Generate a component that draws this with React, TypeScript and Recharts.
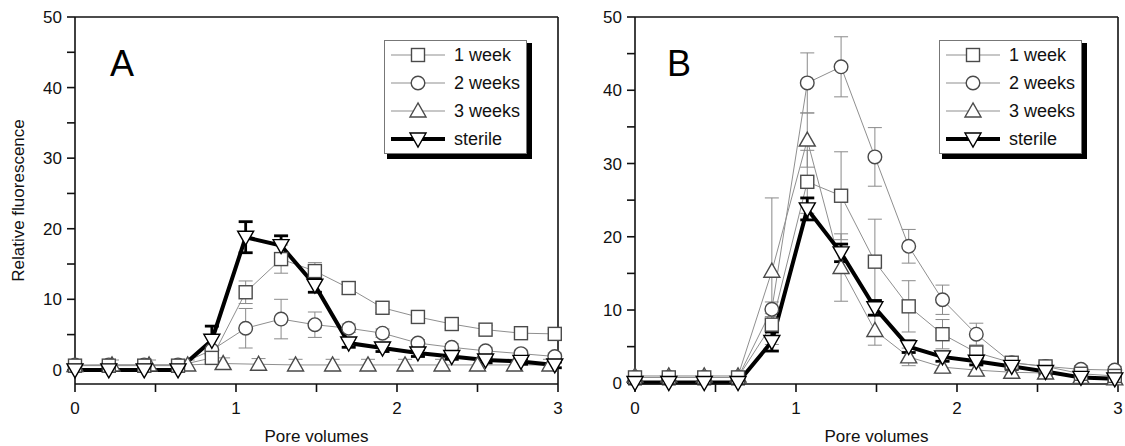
import { LineChart, Line, XAxis, YAxis, ErrorBar, Legend, Label } from 'recharts'

const FONT = '"Liberation Sans", Arial, Helvetica, sans-serif'

// pore volume positions of the samples
const poreA = [0, 0.21, 0.43, 0.64, 0.85, 1.06, 1.28, 1.49, 1.7, 1.91, 2.13, 2.34, 2.55, 2.77, 2.98]
const poreA3 = [0, 0.23, 0.46, 0.7, 0.92, 1.14, 1.37, 1.6, 1.82, 2.05, 2.28, 2.5, 2.73, 2.95]
const poreB = [0, 0.21, 0.43, 0.64, 0.85, 1.07, 1.28, 1.49, 1.7, 1.91, 2.12, 2.34, 2.55, 2.77, 2.98]

// panel A
const a1Week = [0.6, 0.6, 0.6, 0.6, 1.7, 11.0, 15.7, 14.0, 11.6, 8.8, 7.5, 6.5, 5.7, 5.2, 5.1]
const a1WeekErr = [0.3, 0.3, 0.3, 0.3, 0.5, 1.6, 2.0, 1.2, 0.9, 0.7, 0.6, 0.6, 0.6, 0.6, 0.6]
const a2Weeks = [0.7, 0.7, 0.7, 0.7, 2.8, 5.9, 7.2, 6.4, 5.9, 5.2, 3.8, 3.2, 2.7, 2.3, 1.9]
const a2WeeksErr = [0.3, 0.3, 0.3, 0.3, 0.6, 2.8, 2.8, 1.8, 0.6, 0.6, 0.5, 0.5, 0.5, 0.5, 0.5]
const a3Weeks = [0.6, 0.7, 0.7, 0.7, 0.9, 0.8, 0.7, 0.7, 0.7, 0.7, 0.7, 0.7, 0.7, 0.7]
const a3WeeksErr = [0.6, 0.7, 0.7, 0.7, 0.8, 0.8, 0.8, 0.8, 0.8, 0.8, 0.8, 0.8, 0.8, 0.8]
const aSterile = [0, 0, 0, 0, 4.2, 18.8, 17.6, 12.0, 3.8, 3.1, 2.4, 1.9, 1.4, 1.2, 0.7]
const aSterileErr = [0.2, 0.2, 0.2, 0.2, 2.0, 2.2, 1.4, 1.0, 0.6, 0.5, 0.5, 0.4, 0.4, 0.4, 0.4]

// panel B
const b1Week = [0.8, 0.8, 0.8, 0.8, 8.0, 27.5, 25.6, 16.6, 10.5, 6.7, 4.2, 2.8, 2.3, 1.3, 1.0]
const b1WeekErr = [0.3, 0.3, 0.3, 0.3, 1.5, 4.3, 6.0, 5.8, 3.5, 2.0, 1.0, 0.6, 0.6, 0.5, 0.5]
const b2Weeks = [0.8, 0.8, 0.8, 0.8, 10.1, 41.0, 43.2, 30.9, 18.7, 11.4, 6.7, 2.8, 2.3, 1.9, 1.8]
const b2WeeksErr = [0.3, 0.3, 0.3, 0.3, 1.0, 4.1, 4.1, 4.0, 2.3, 2.0, 1.5, 0.6, 0.6, 0.5, 0.5]
const b3Weeks = [1.0, 1.0, 1.0, 1.0, 15.3, 33.2, 15.8, 7.2, 3.6, 2.2, 1.8, 1.5, 1.4, 0.8, 0.6]
const b3WeeksErr = [0.3, 0.3, 0.3, 0.3, 10.0, 3.7, 4.6, 2.0, 1.2, 0.8, 0.8, 0.6, 0.6, 0.5, 0.4]
const bSterile = [0.1, 0.1, 0.1, 0.1, 5.7, 23.8, 17.8, 10.3, 5.0, 3.6, 3.0, 2.3, 1.6, 0.8, 0.6]
const bSterileErr = [0.2, 0.2, 0.2, 0.2, 1.3, 1.5, 1.2, 1.0, 0.8, 0.6, 0.5, 0.4, 0.4, 0.3, 0.3]

const xTicks = [0, 0.5, 1, 1.5, 2, 2.5, 3]
const yTicks = [0, 5, 10, 15, 20, 25, 30, 35, 40, 45, 50]
const legendNames = ['1 week', '2 weeks', '3 weeks', 'sterile']

type Shape = 'square' | 'circle' | 'up' | 'down'
const shapes: Shape[] = ['square', 'circle', 'up', 'down']

const AXIS = '#111'
const GRAY_LINE = '#8f8f8f'
const GRAY_MARK = '#4a4a4a'
const CHART_H = 446
const X_AXIS_H = 62

const toRows = (x: number[], y: number[], e: number[]) =>
  x.map((v, i) => ({ x: v, y: y[i], err: e[i] }))

function Marker({ shape, cx, cy, stroke }: { shape: Shape; cx: number; cy: number; stroke: string }) {
  const common = { fill: '#fff', stroke, strokeWidth: 1.4 }
  if (shape === 'square') return <rect x={cx - 6.5} y={cy - 6.5} width={13} height={13} {...common} />
  if (shape === 'circle') return <circle cx={cx} cy={cy} r={6.8} {...common} />
  if (shape === 'up')
    return <polygon points={`${cx},${cy - 8} ${cx - 8},${cy + 6} ${cx + 8},${cy + 6}`} {...common} />
  return <polygon points={`${cx - 8},${cy - 6} ${cx + 8},${cy - 6} ${cx},${cy + 8}`} {...common} />
}

// labels for the bottom / left axes
function bottomLabel(props: any) {
  const v = props.payload.value as number
  if (!Number.isInteger(v)) return <g />
  return (
    <text x={props.x} y={Number(props.y) + 22} textAnchor="middle" fontSize={17} fill="#111" fontFamily={FONT}>
      {v}
    </text>
  )
}

function leftLabel(props: any) {
  const v = props.payload.value as number
  if (v % 10 !== 0) return <g />
  return (
    <text x={Number(props.x) - 5} y={Number(props.y) + 6} textAnchor="end" fontSize={17} fill="#111" fontFamily={FONT}>
      {v}
    </text>
  )
}

// frame tick marks, drawn from the top / right axes for both opposite edges
function makeFrameTick(side: 'top' | 'right', step: number, farEdge: number) {
  return (props: any) => {
    const x = Number(props.x)
    const y = Number(props.y)
    const v = props.payload.value as number
    const major = Math.abs(v / step - Math.round(v / step)) < 1e-6
    const len = major ? 8 : 5
    const d =
      side === 'top'
        ? `M${x},${y}L${x},${y + len}M${x},${farEdge}L${x},${farEdge - len}`
        : `M${x},${y}L${x - len},${y}M${farEdge},${y}L${farEdge + len},${y}`
    return <path d={d} stroke={AXIS} strokeWidth={1.6} fill="none" />
  }
}

function LegendBox() {
  return (
    <div
      style={{
        width: 143,
        height: 114,
        background: '#fff',
        border: '1px solid #777',
        boxShadow: '4px 4px 0 1px #000',
        boxSizing: 'border-box',
        fontFamily: FONT,
        fontSize: 18,
        color: '#111',
      }}
    >
      {legendNames.map((name, i) => {
        const sterile = i === 3
        return (
          <div key={name} style={{ display: 'flex', alignItems: 'center', height: 28, paddingLeft: 5 }}>
            <svg width={56} height={22} style={{ display: 'block' }}>
              <line
                x1={1}
                x2={55}
                y1={11}
                y2={11}
                stroke={sterile ? '#000' : GRAY_LINE}
                strokeWidth={sterile ? 4 : 1}
              />
              <Marker shape={shapes[i]} cx={28} cy={11} stroke={sterile ? '#000' : GRAY_MARK} />
            </svg>
            <span style={{ marginLeft: 8, lineHeight: '20px' }}>{name}</span>
          </div>
        )
      })}
    </div>
  )
}

interface SeriesDef {
  rows: { x: number; y: number; err: number }[]
  shape: Shape
  name: string
}

function Panel({
  letter,
  series,
  width,
  yMin,
  axisW,
  yTitle,
  legendLeft,
}: {
  letter: string
  series: SeriesDef[]
  width: number
  yMin: number
  axisW: number
  yTitle: boolean
  legendLeft: number
}) {
  return (
    <div style={{ position: 'relative', width, height: CHART_H }}>
      <LineChart width={width} height={CHART_H} margin={{ top: 16, right: 6, bottom: 0, left: 0 }}>
        <XAxis
          dataKey="x"
          type="number"
          domain={[0, 3]}
          ticks={xTicks}
          interval={0}
          height={X_AXIS_H}
          tickSize={8}
          tickMargin={0}
          tickLine={{ stroke: AXIS, strokeWidth: 1.6 }}
          axisLine={{ stroke: AXIS, strokeWidth: 1.6 }}
          tick={bottomLabel}
        >
          <Label
            content={(p: any) => {
              const vb = p.viewBox
              return (
                <text x={vb.x + vb.width / 2} y={vb.y + 58} textAnchor="middle" fontSize={17} fill="#111" fontFamily={FONT}>
                  Pore volumes
                </text>
              )
            }}
          />
        </XAxis>
        <XAxis
          xAxisId="top"
          orientation="top"
          dataKey="x"
          type="number"
          domain={[0, 3]}
          ticks={xTicks}
          interval={0}
          height={1}
          tickSize={0}
          tickMargin={0}
          tickLine={false}
          axisLine={{ stroke: AXIS, strokeWidth: 1.6 }}
          tick={makeFrameTick('top', 1, CHART_H - X_AXIS_H)}
        />
        <YAxis
          type="number"
          domain={[yMin, 50]}
          ticks={yTicks}
          interval={0}
          width={axisW}
          tickSize={8}
          tickMargin={0}
          tickLine={{ stroke: AXIS, strokeWidth: 1.6 }}
          axisLine={{ stroke: AXIS, strokeWidth: 1.6 }}
          tick={leftLabel}
        >
          {yTitle && (
            <Label
              content={(p: any) => {
                const vb = p.viewBox
                const cy = vb.y + vb.height / 2
                return (
                  <text
                    x={18}
                    y={cy}
                    transform={`rotate(-90 18 ${cy})`}
                    textAnchor="middle"
                    dominantBaseline="central"
                    fontSize={17}
                    fill="#111"
                    fontFamily={FONT}
                  >
                    Relative fluorescence
                  </text>
                )
              }}
            />
          )}
        </YAxis>
        <YAxis
          yAxisId="right"
          orientation="right"
          type="number"
          domain={[yMin, 50]}
          ticks={yTicks}
          interval={0}
          width={1}
          tickSize={0}
          tickMargin={0}
          tickLine={false}
          axisLine={{ stroke: AXIS, strokeWidth: 1.6 }}
          tick={makeFrameTick('right', 10, axisW)}
        />
        {series.map((s) => {
          const sterile = s.shape === 'down'
          const mark = sterile ? '#000' : GRAY_MARK
          return (
            <Line
              key={s.name}
              data={s.rows}
              dataKey="y"
              name={s.name}
              type="linear"
              stroke={sterile ? '#000' : GRAY_LINE}
              strokeWidth={sterile ? 4 : 1}
              activeDot={false}
              legendType="none"
              isAnimationActive={false}
              dot={(p: any) => <Marker key={`${s.name}-${p.index}`} shape={s.shape} cx={p.cx} cy={p.cy} stroke={mark} />}
            >
              <ErrorBar
                dataKey="err"
                direction="y"
                width={7}
                stroke={sterile ? '#000' : '#8a8a8a'}
                strokeWidth={sterile ? 2.8 : 1}
                isAnimationActive={false}
              />
            </Line>
          )
        })}
        <Legend
          layout="vertical"
          align="center"
          verticalAlign="middle"
          content={() => <LegendBox />}
          wrapperStyle={{ left: legendLeft, top: 40, width: 143, height: 114, bottom: 'auto', right: 'auto' }}
        />
      </LineChart>
      <div
        style={{
          position: 'absolute',
          left: letter === 'A' ? 110 : 102,
          top: 46,
          fontFamily: FONT,
          fontSize: 36,
          lineHeight: '36px',
          color: '#000',
        }}
      >
        {letter}
      </div>
    </div>
  )
}

const seriesA: SeriesDef[] = [
  { name: '3 weeks', shape: 'up', rows: toRows(poreA3, a3Weeks, a3WeeksErr) },
  { name: '2 weeks', shape: 'circle', rows: toRows(poreA, a2Weeks, a2WeeksErr) },
  { name: '1 week', shape: 'square', rows: toRows(poreA, a1Week, a1WeekErr) },
  { name: 'sterile', shape: 'down', rows: toRows(poreA, aSterile, aSterileErr) },
]

const seriesB: SeriesDef[] = [
  { name: '3 weeks', shape: 'up', rows: toRows(poreB, b3Weeks, b3WeeksErr) },
  { name: '2 weeks', shape: 'circle', rows: toRows(poreB, b2Weeks, b2WeeksErr) },
  { name: '1 week', shape: 'square', rows: toRows(poreB, b1Week, b1WeekErr) },
  { name: 'sterile', shape: 'down', rows: toRows(poreB, bSterile, bSterileErr) },
]

export default function App() {
  return (
    <div style={{ position: 'absolute', left: 0, top: 0, width: 1125, height: 446, background: '#fff' }}>
      <div style={{ position: 'absolute', left: 0, top: 0 }}>
        <Panel letter="A" series={seriesA} width={565} yMin={-2} axisW={75} yTitle legendLeft={384} />
      </div>
      <div style={{ position: 'absolute', left: 565, top: 0 }}>
        <Panel letter="B" series={seriesB} width={560} yMin={0} axisW={70} yTitle={false} legendLeft={374} />
      </div>
    </div>
  )
}
